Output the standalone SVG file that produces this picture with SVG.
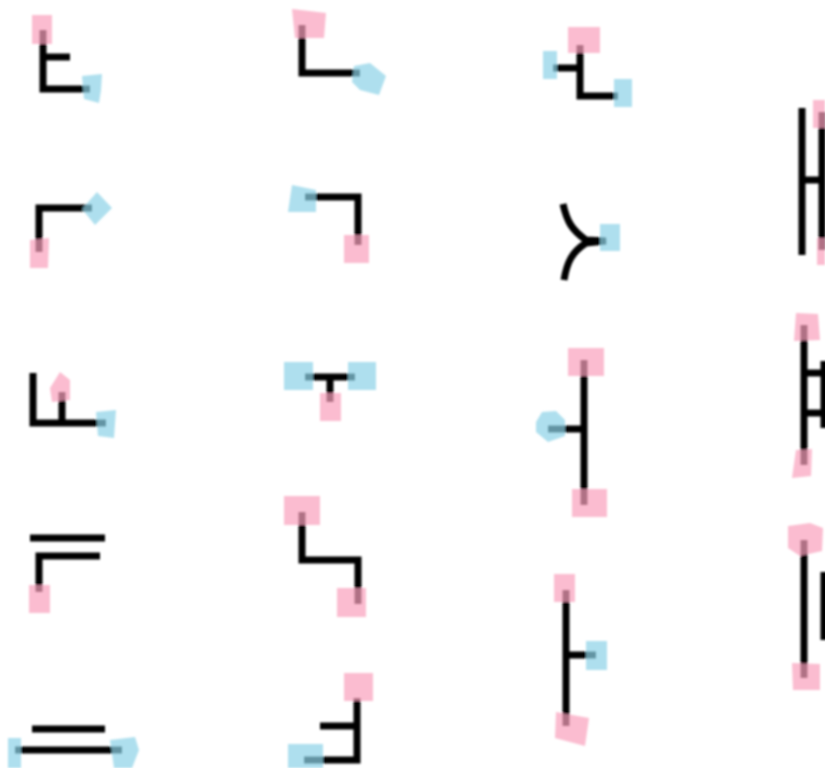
<svg xmlns="http://www.w3.org/2000/svg" width="825" height="768" viewBox="0 0 825 768">
<style>
.c{fill:none;stroke:#050505;stroke-width:7}
.p{fill:#f9a0bc;fill-opacity:.7}
.b{fill:#8bd1e7;fill-opacity:.7}
</style>
<defs><filter id="s" x="-5%" y="-5%" width="110%" height="110%"><feGaussianBlur stdDeviation="1.1"/></filter></defs>
<rect width="825" height="768" fill="#fff"/>
<g filter="url(#s)">
<g id="connectors" class="c">
<path class="c" d="M43 30V89H90M43 57H70"/>
<path class="c" d="M302 25V73H360"/>
<path class="c" d="M580 45V96H618M553 68H580"/>
<path class="c" d="M802 108V255M822 112V250M802 180H822"/>
<path class="c" d="M39 252V208H92"/>
<path class="c" d="M305 197H358V245"/>
<path class="c" d="M563 204C567 222 572 230 586 240L606 241L586 243C572 252 567 262 564 280"/>
<path class="c" d="M33 373V423H106M62 423V392"/>
<path class="c" d="M305 377H355M330 377V402"/>
<path class="c" d="M584 360V505M584 429H548"/>
<path class="c" d="M804 325V465M804 373H825M804 413H825M824 361V428"/>
<path class="c" d="M30 538H105M39 592V556H100"/>
<path class="c" d="M302 512V560H358V604"/>
<path class="c" d="M566 590V726M566 655H596"/>
<path class="c" d="M804 540V678M824 572V640"/>
<path class="c" d="M32 729H105M15 750H122"/>
<path class="c" d="M357 698V760H304M320 726H357"/>
</g>
<g id="n1a"><rect class="p" x="32" y="15" width="20" height="29"/></g>
<g id="n1b"><path class="b" d="M82 76L102 74L101 90L99 103L84 99Z"/></g>
<g id="n2a"><path class="p" d="M292 9L326 13L324 38L295 38Z"/></g>
<g id="n2b"><path class="b" d="M354 66L370 63L386 76L379 95L360 90L352 82Z"/></g>
<g id="n3a"><rect class="p" x="568" y="27" width="32" height="26"/></g>
<g id="n3b"><rect class="b" x="543" y="51" width="14" height="28"/></g>
<g id="n3c"><rect class="b" x="614" y="79" width="18" height="28"/></g>
<g id="n4a"><rect class="p" x="813" y="100" width="12" height="28"/></g>
<g id="n4b"><rect class="p" x="817" y="238" width="8" height="27"/></g>
<g id="n5a"><path class="p" d="M30 240L49 238L48 268H30Z"/></g>
<g id="n5b"><path class="b" d="M97 192L112 208L95 225L82 209Z"/></g>
<g id="n6a"><path class="b" d="M292 185L316 190V212H288Z"/></g>
<g id="n6b"><rect class="p" x="344" y="235" width="25" height="28"/></g>
<g id="n7a"><rect class="b" x="600" y="224" width="20" height="27"/></g>
<g id="n8a"><path class="p" d="M60 372L70 380V400L52 402L50 388Z"/></g>
<g id="n8b"><path class="b" d="M96 412L116 410L114 438L98 436Z"/></g>
<g id="n9a"><rect class="b" x="284" y="362" width="29" height="28"/></g>
<g id="n9b"><rect class="b" x="348" y="362" width="28" height="28"/></g>
<g id="n9c"><rect class="p" x="320" y="393" width="21" height="28"/></g>
<g id="n10a"><rect class="p" x="568" y="348" width="36" height="28"/></g>
<g id="n10b"><path class="b" d="M542 412L556 411L565 420V436L548 442L536 432V422Z"/></g>
<g id="n10c"><rect class="p" x="572" y="489" width="35" height="28"/></g>
<g id="n11a"><path class="p" d="M796 313L818 314L820 340L794 341Z"/></g>
<g id="n11b"><path class="p" d="M796 450L812 449L811 476L792 478Z"/></g>
<g id="n12a"><path class="p" d="M788 526L810 523L823 528L822 551L800 556L788 548Z"/></g>
<g id="n12b"><path class="p" d="M792 663L820 664V690H793Z"/></g>
<g id="n13a"><rect class="p" x="29" y="585" width="21" height="28"/></g>
<g id="n14a"><rect class="p" x="284" y="496" width="36" height="29"/></g>
<g id="n14b"><rect class="p" x="337" y="588" width="29" height="29"/></g>
<g id="n15a"><rect class="p" x="554" y="574" width="21" height="28"/></g>
<g id="n15b"><rect class="b" x="586" y="641" width="21" height="29"/></g>
<g id="n15c"><path class="p" d="M556 712L589 718L585 746L555 738Z"/></g>
<g id="n16a"><rect class="b" x="8" y="738" width="13" height="30"/></g>
<g id="n16b"><path class="b" d="M110 740L135 737L139 750L132 768H114Z"/></g>
<g id="n17a"><rect class="p" x="344" y="673" width="29" height="28"/></g>
<g id="n17b"><rect class="b" x="288" y="744" width="35" height="24"/></g>
</g>
</svg>
